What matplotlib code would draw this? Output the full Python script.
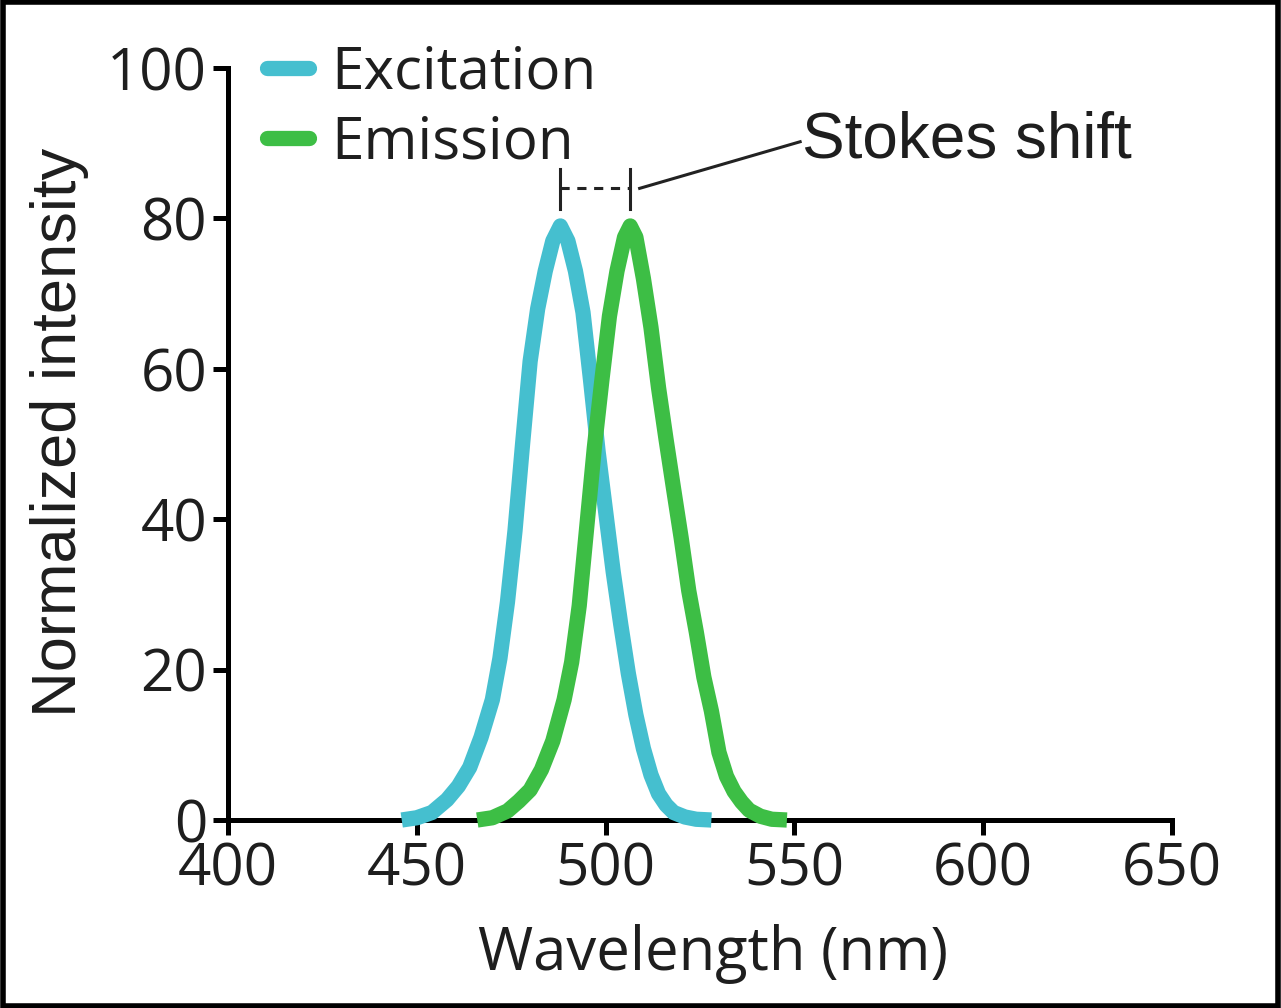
import numpy as np
import matplotlib
matplotlib.use("Agg")
import matplotlib.pyplot as plt
from matplotlib.patches import Rectangle

# values
exc_nm = [446, 450, 454, 458, 461, 464, 467, 470, 472, 474, 476, 478, 480,
          482, 484, 486, 488, 490, 492, 494, 496, 498, 500, 502, 504, 506,
          508, 510, 512, 514, 516, 518, 521, 524, 528]
exc_val = [0, 0.3, 1.0, 2.7, 4.5, 7, 11, 16, 21.5, 29, 38.5, 50, 61,
           68, 73, 77, 79, 77, 73, 67.5, 58.5, 49, 41, 33, 26, 19.5,
           14, 9.5, 6, 3.5, 2, 1.0, 0.4, 0.1, 0]
em_nm = [466, 470, 474, 477, 480, 483, 486, 489, 491, 493, 495, 497, 499,
         501, 503, 505, 506.5, 508, 510, 512, 514, 516, 518, 520, 522, 524,
         526, 528, 530, 532, 534, 536, 538, 541, 544, 548]
em_val = [0, 0.3, 1.2, 2.5, 4, 6.7, 10.5, 16, 21, 28.5, 39, 49.5, 58.5,
          67, 73, 77.5, 79, 77.5, 72, 65.5, 57.5, 50.6, 44, 37.5, 30.5, 25,
          19, 14.5, 9, 5.8, 3.8, 2.4, 1.3, 0.5, 0.1, 0]
x_ticks = [400, 450, 500, 550, 600, 650]
y_ticks = [0, 20, 40, 60, 80, 100]

exc_color = '#45BFCF'
em_color = '#3DBE45'
txt = '#1e1e1e'

fig = plt.figure(figsize=(12.81, 10.08), dpi=100)
ax = fig.add_axes([0.178, 0.1865, 0.737, 0.746])

ax.plot(exc_nm, exc_val, color=exc_color, lw=11, solid_capstyle='butt',
        solid_joinstyle='round', clip_on=False, zorder=5, label='Excitation')
ax.plot(em_nm, em_val, color=em_color, lw=11, solid_capstyle='butt',
        solid_joinstyle='round', clip_on=False, zorder=5, label='Emission')

ax.set_xlim(400, 650)
ax.set_ylim(0, 100)
ax.set_xticks(x_ticks)
ax.set_yticks(y_ticks)
for s in ['top', 'right']:
    ax.spines[s].set_visible(False)
for s in ['left', 'bottom']:
    ax.spines[s].set_linewidth(3.6)
    ax.spines[s].set_zorder(3)
ax.tick_params(width=3.6, length=11, labelsize=42, labelcolor=txt, pad=4)
for lab in ax.get_xticklabels() + ax.get_yticklabels():
    lab.set_family('Open Sans')

ax.set_xlabel('Wavelength (nm)', family='Open Sans', fontsize=43, color=txt)
ax.xaxis.set_label_coords(0.514, -0.138)
ax.set_ylabel('Normalized intensity', family='Liberation Sans', fontsize=45.5, color=txt)
ax.yaxis.set_label_coords(-0.178, 0.516)
ax.yaxis.label.set_va('center')

leg = ax.legend(loc='upper left', bbox_to_anchor=(-0.002, 1.086), frameon=False,
                prop={'family': 'Open Sans', 'size': 42}, handlelength=0.72,
                handletextpad=0.38, labelspacing=0.2, borderaxespad=0.3)
for t in leg.get_texts():
    t.set_color(txt)
for h in leg.legend_handles:
    h.set_solid_capstyle('round')

# Stokes shift bracket between the two peaks
p1 = exc_nm[int(np.argmax(exc_val))]
p2 = em_nm[int(np.argmax(em_val))]
yb = 84
ax.plot([p1, p1], [81.3, 86.6], color='#222222', lw=2.2, zorder=6)
ax.plot([p2, p2], [81.3, 86.6], color='#222222', lw=2.2, zorder=6)
ax.plot([p1, p2], [yb, yb], color='#222222', lw=2.2, ls=(0, (3, 2.5)), zorder=6)
ax.plot([p2 + 2.5, 551.5], [yb, 90.2], color='#222222', lw=2.2, zorder=6)
ax.text(552, 90.3, 'Stokes shift', family='Liberation Sans', fontsize=46,
        color=txt, va='center', ha='left')

fig.add_artist(Rectangle((0.002, 0.002), 0.996, 0.996, transform=fig.transFigure,
                         fill=False, lw=4, edgecolor='black'))

fig.savefig('out.png', dpi=100, facecolor='white')
